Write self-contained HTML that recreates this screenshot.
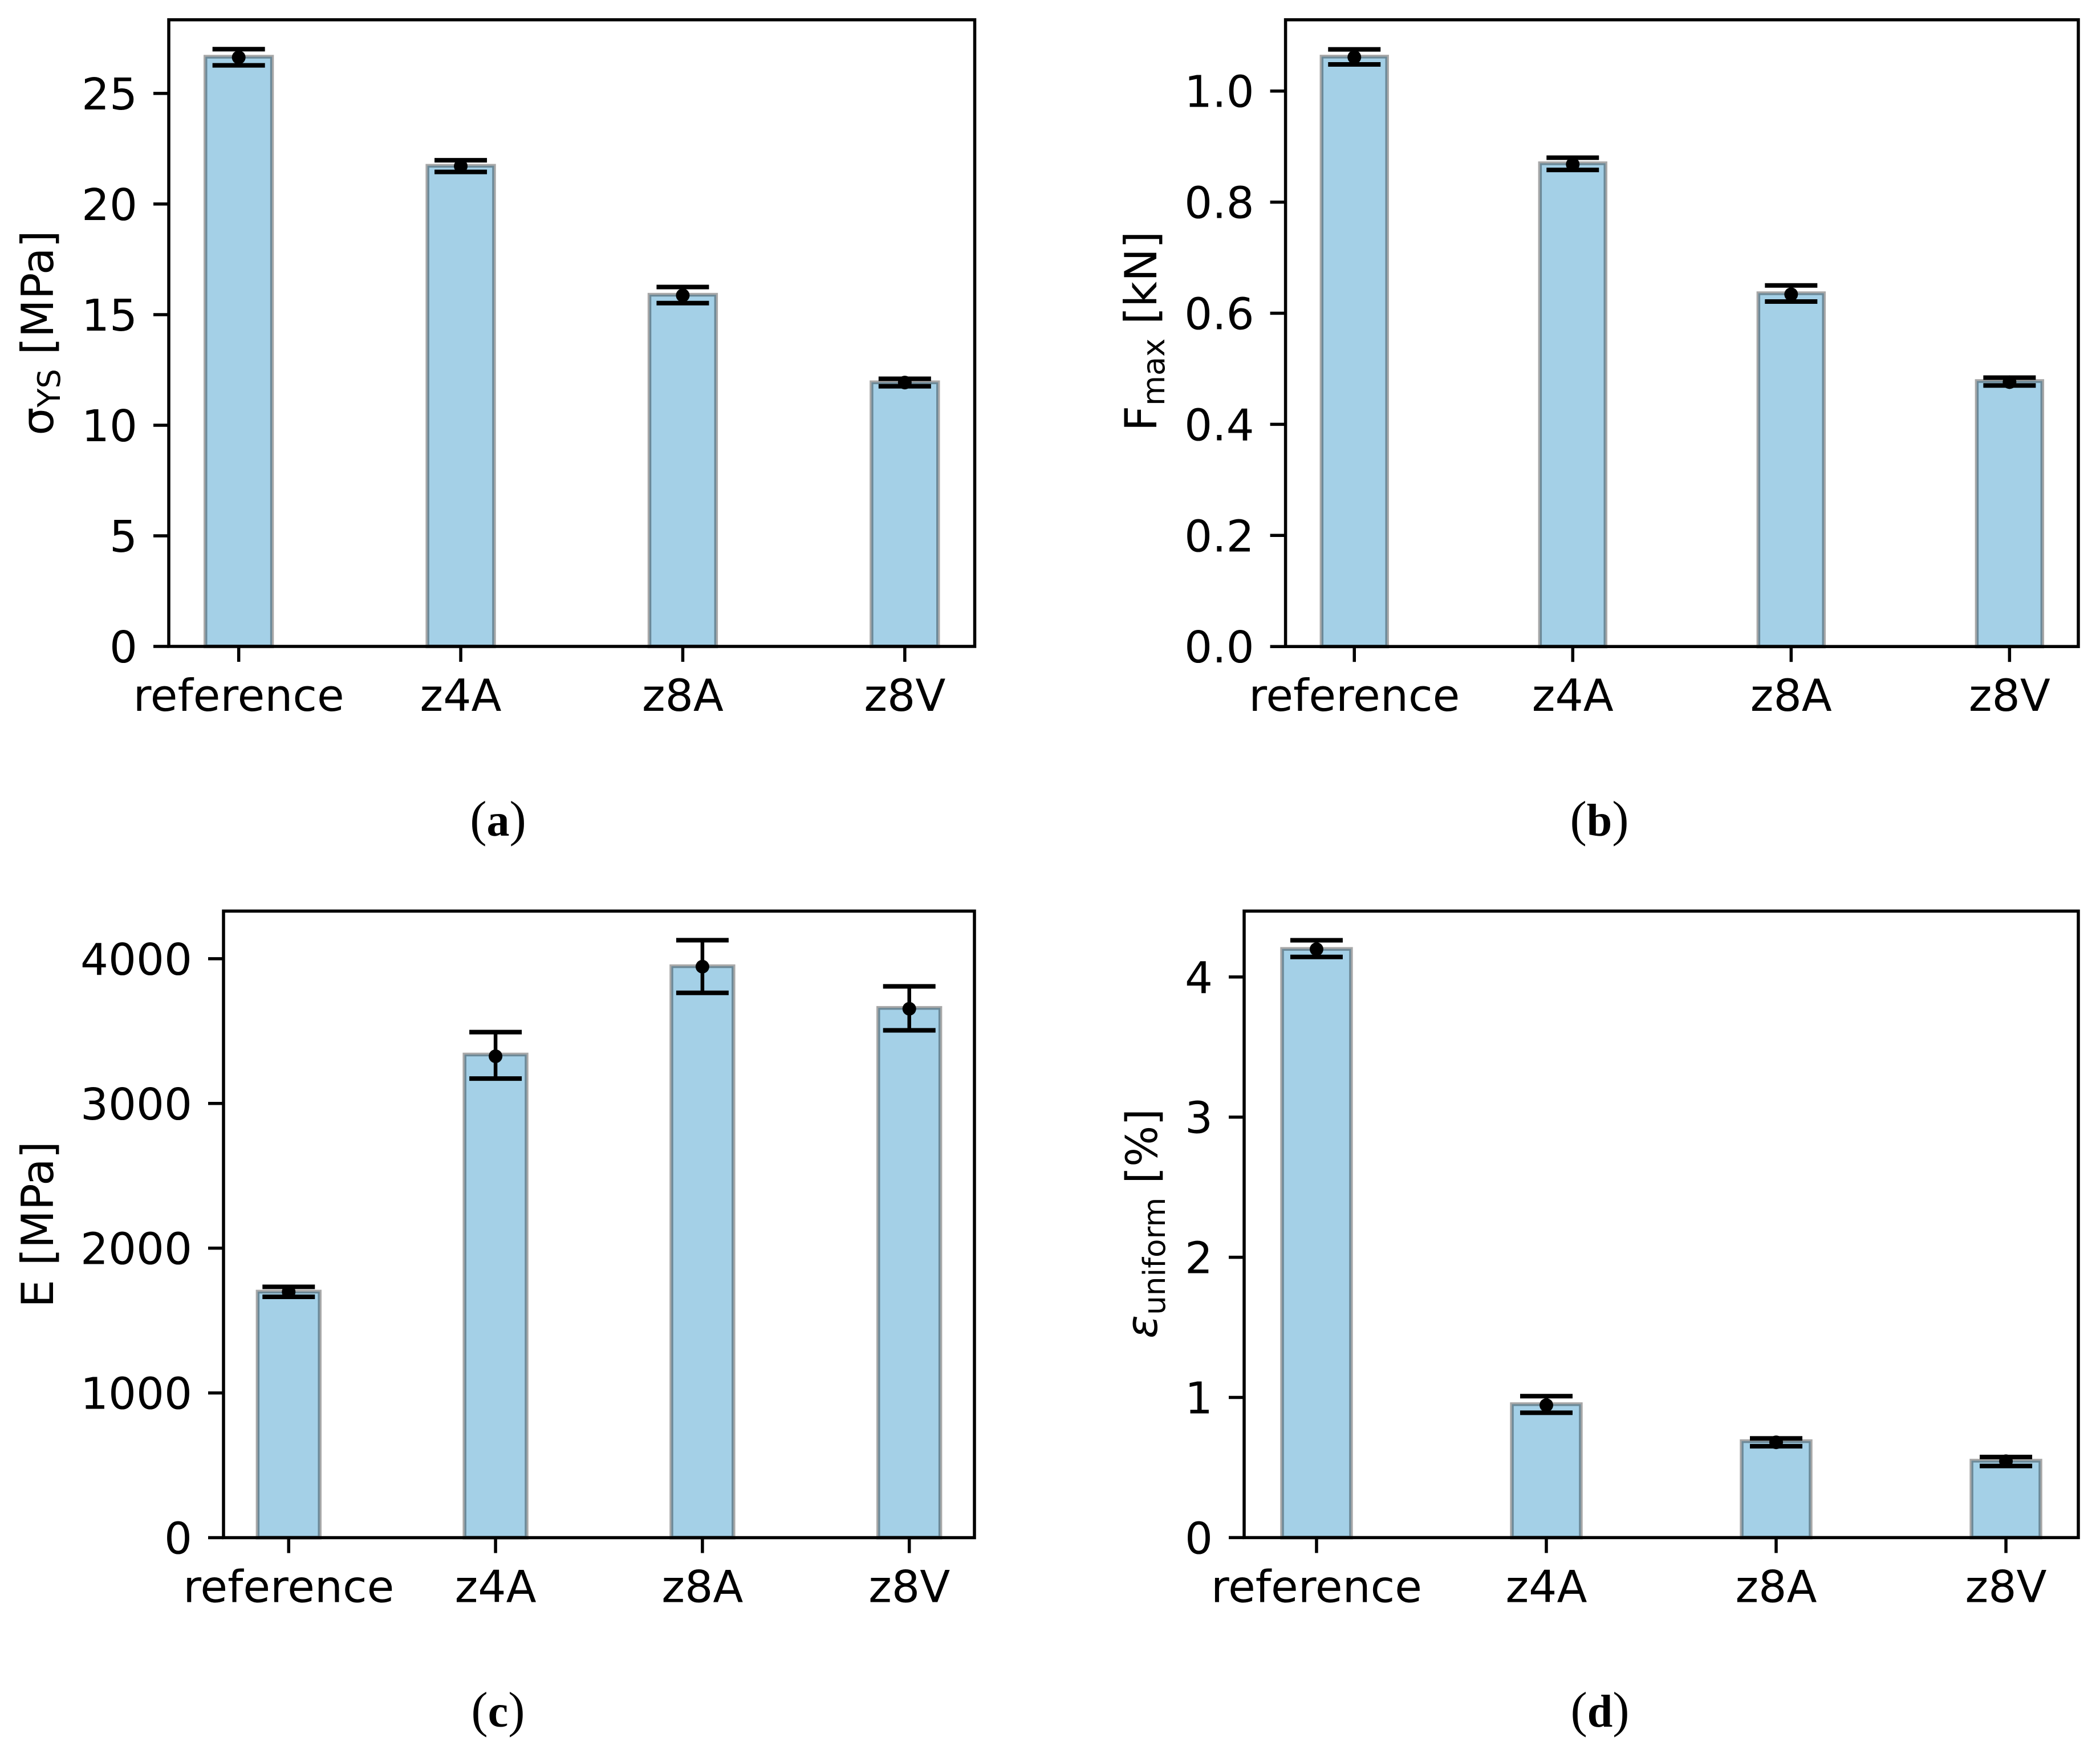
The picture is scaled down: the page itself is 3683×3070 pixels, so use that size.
<!DOCTYPE html>
<html lang="en">
<head>
<meta charset="utf-8">
<title>Mechanical properties bar charts</title>
<style>
  html, body { margin: 0; padding: 0; background: #fff; }
  svg { display: block; }
  text { font-family: "DejaVu Sans", "Liberation Sans", sans-serif; fill: #000; white-space: pre; }
  .cap { font-family: "Liberation Serif", serif; }
</style>
</head>
<body>
<svg id="figure" xmlns="http://www.w3.org/2000/svg" width="3683" height="3070" viewBox="0 0 3683 3070"></svg>
<script>
// ---- data ----
const categories = ["reference", "z4A", "z8A", "z8V"];

const yieldBars  = [26.66, 21.73, 15.90, 11.94];
const yieldMeans = [26.63, 21.71, 15.87, 11.93];
const yieldLow   = [26.27, 21.45, 15.52, 11.76];
const yieldHigh  = [27.00, 21.98, 16.25, 12.10];
const yieldTicks = [0, 5, 10, 15, 20, 25];
const yieldTickLabels = ["0", "5", "10", "15", "20", "25"];

const forceBars  = [1.062, 0.870, 0.636, 0.478];
const forceMeans = [1.061, 0.868, 0.634, 0.476];
const forceLow   = [1.048, 0.858, 0.621, 0.470];
const forceHigh  = [1.075, 0.880, 0.650, 0.484];
const forceTicks = [0, 0.2, 0.4, 0.6, 0.8, 1.0];
const forceTickLabels = ["0.0", "0.2", "0.4", "0.6", "0.8", "1.0"];

const modulusBars  = [1700, 3338, 3948, 3660];
const modulusMeans = [1698, 3326, 3945, 3654];
const modulusLow   = [1664, 3172, 3764, 3505];
const modulusHigh  = [1733, 3493, 4128, 3809];
const modulusTicks = [0, 1000, 2000, 3000, 4000];
const modulusTickLabels = ["0", "1000", "2000", "3000", "4000"];

const strainBars  = [4.200, 0.952, 0.688, 0.549];
const strainMeans = [4.198, 0.945, 0.680, 0.545];
const strainLow   = [4.143, 0.891, 0.652, 0.511];
const strainHigh  = [4.262, 1.009, 0.708, 0.575];
const strainTicks = [0, 1, 2, 3, 4];
const strainTickLabels = ["0", "1", "2", "3", "4"];

// ---- drawing ----
const NS = "http://www.w3.org/2000/svg";
const svg = document.getElementById("figure");

function make(tag, attrs, parent) {
  const el = document.createElementNS(NS, tag);
  for (const k in attrs) el.setAttribute(k, attrs[k]);
  parent.appendChild(el);
  return el;
}

function drawPanel(p) {
  const group = make("g", {}, svg);
  
  

  // axis functions: x spans -0.315..n-1+0.315, y spans 0..yMax
  const xMin = -0.315, xMax = categories.length - 1 + 0.315;
  const xScale = v => p.left + (v - xMin) / (xMax - xMin) * (p.right - p.left);
  const yScale = v => p.bottom - v / p.yMax * (p.bottom - p.top);
  const barWidth = xScale(0.3) - xScale(0);
  const capPx = 46;

  const bg = make("rect", { x: p.left, y: p.top, width: p.right - p.left, height: p.bottom - p.top, fill: "#fff" }, group);
  
  

  categories.forEach((cat, i) => {
    const cx = xScale(i);
    const bar = make("rect", {
      x: cx - barWidth / 2, y: yScale(p.bars[i]),
      width: barWidth, height: p.bottom - yScale(p.bars[i]),
      fill: "#a4d0e7", stroke: "#000", "stroke-opacity": 0.34, "stroke-width": 6.5
    }, group);
    
    
  });

  categories.forEach((cat, i) => {
    const cx = xScale(i);
    const eg = make("g", { stroke: "#000", "stroke-width": 6.5 }, group);
    
    

    const stem = make("line", { x1: cx, x2: cx, y1: yScale(p.high[i]), y2: yScale(p.low[i]) }, eg);
    
    

    const capTop = make("line", { x1: cx - capPx, x2: cx + capPx, y1: yScale(p.high[i]), y2: yScale(p.high[i]), "stroke-width": 8 }, eg);
    
    

    const capBottom = make("line", { x1: cx - capPx, x2: cx + capPx, y1: yScale(p.low[i]), y2: yScale(p.low[i]), "stroke-width": 8 }, eg);
    
    

    const dot = make("circle", { cx: cx, cy: yScale(p.means[i]), r: 12, fill: "#000", stroke: "none" }, group);
    
    
  });

  // y ticks
  p.ticks.forEach((t, i) => {
    const y = yScale(t);
    const tick = make("line", { x1: p.left - 27, x2: p.left, y1: y, y2: y, stroke: "#000", "stroke-width": 5.5 }, group);
    
    

    const lab = make("text", { x: p.left - 55, y: y + 28, "text-anchor": "end", "font-size": 77 }, group);
    lab.textContent = p.tickLabels[i];
    
    
  });

  // x ticks
  categories.forEach((cat, i) => {
    const x = xScale(i);
    const tick = make("line", { x1: x, x2: x, y1: p.bottom, y2: p.bottom + 27, stroke: "#000", "stroke-width": 5.5 }, group);
    
    

    const lab = make("text", { x: x, y: p.bottom + 113, "text-anchor": "middle", "font-size": 77.5 }, group);
    lab.textContent = cat;
    
    
  });

  // spines
  const frame = make("rect", { x: p.left, y: p.top, width: p.right - p.left, height: p.bottom - p.top, fill: "none", stroke: "#000", "stroke-width": 5.5 }, group);
  
  

  // y axis title
  const title = make("text", {
    transform: "translate(" + p.labelX + "," + p.labelY + ") rotate(-90)",
    "text-anchor": "middle", "font-size": p.labelSize
  }, group);
  
  
  const main = make("tspan", p.mainItalic ? { "font-style": "italic" } : {}, title);
  main.textContent = p.labelMain;
  if (p.labelSub) {
    const sub = make("tspan", { "font-size": p.labelSize * 0.7, dy: p.subDrop }, title);
    sub.textContent = p.labelSub;
    const rest = make("tspan", { dy: -p.subDrop }, title);
    rest.textContent = p.labelRest;
  } else {
    const rest = make("tspan", {}, title);
    rest.textContent = p.labelRest;
  }

  // caption
  const cap = make("text", { class: "cap", x: p.capX, y: p.capY, "text-anchor": "middle", "font-size": 88 }, group);
  
  
  const open = make("tspan", {}, cap);
  open.textContent = "(";
  const letter = make("tspan", { "font-weight": "bold", "font-size": 80 }, cap);
  letter.textContent = p.capLetter;
  const close = make("tspan", {}, cap);
  close.textContent = ")";
}

drawPanel({ key: "yield-strength", bars: yieldBars, means: yieldMeans, low: yieldLow, high: yieldHigh,
  ticks: yieldTicks, tickLabels: yieldTickLabels, yMax: 28.33,
  left: 296, right: 1709.5, top: 34.7, bottom: 1134,
  labelX: 93, labelY: 584, labelSize: 77.5, labelMain: "σ", labelSub: "YS", labelRest: " [MPa]", subDrop: 12,
  capX: 873.5, capY: 1466, capLetter: "a" });

drawPanel({ key: "max-force", bars: forceBars, means: forceMeans, low: forceLow, high: forceHigh,
  ticks: forceTicks, tickLabels: forceTickLabels, yMax: 1.1283,
  left: 2254.6, right: 3645, top: 34.7, bottom: 1134.2,
  labelX: 2028, labelY: 581, labelSize: 77.5, labelMain: "F", labelSub: "max", labelRest: " [kN]", subDrop: 14,
  capX: 2805, capY: 1466, capLetter: "b" });

drawPanel({ key: "elastic-modulus", bars: modulusBars, means: modulusMeans, low: modulusLow, high: modulusHigh,
  ticks: modulusTicks, tickLabels: modulusTickLabels, yMax: 4329,
  left: 392, right: 1709, top: 1598.3, bottom: 2697.5,
  labelX: 93, labelY: 2148, labelSize: 77.5, labelMain: "E [MPa]", labelSub: "", labelRest: "", subDrop: 0,
  capX: 873.5, capY: 3029, capLetter: "c" });

drawPanel({ key: "uniform-strain", bars: strainBars, means: strainMeans, low: strainLow, high: strainHigh,
  ticks: strainTicks, tickLabels: strainTickLabels, yMax: 4.47,
  left: 2182, right: 3645, top: 1598.3, bottom: 2697.4,
  labelX: 2029, labelY: 2146.5, labelSize: 76, labelMain: "ε", mainItalic: true, labelSub: "uniform", labelRest: " [%]", subDrop: 14,
  capX: 2806, capY: 3029, capLetter: "d" });
</script>
</body>
</html>
